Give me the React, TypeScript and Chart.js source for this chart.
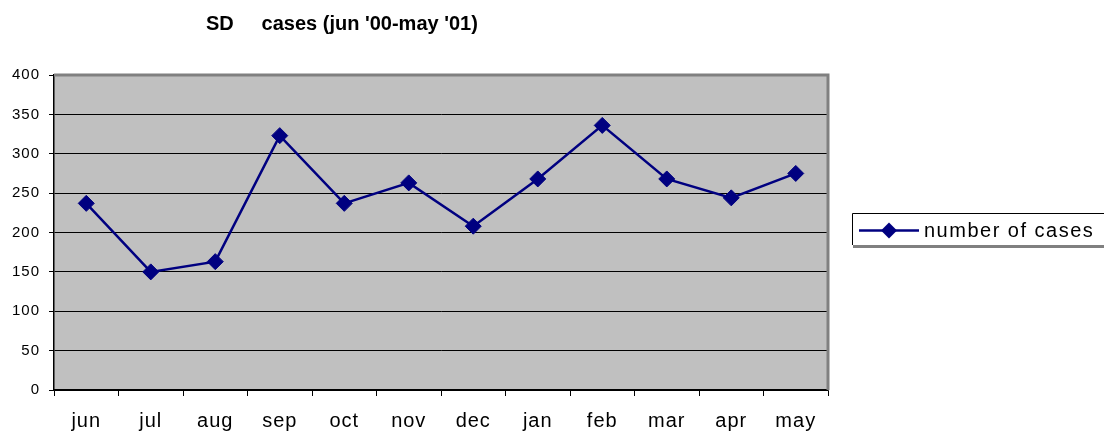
import React, { useEffect, useRef } from "react";
import { Chart, registerables } from "chart.js";

Chart.register(...registerables);

const categories = ["jun", "jul", "aug", "sep", "oct", "nov", "dec", "jan", "feb", "mar", "apr", "may"];
const seriesLabel = "number of cases";
const seriesValues = [237, 150, 163, 323, 237, 263, 208, 268, 336, 268, 244, 275];
const yTicks = [0, 50, 100, 150, 200, 250, 300, 350, 400];
const chartTitle = "SD     cases (jun '00-may '01)";

const NAVY = "#000080";
const FONT = "'Liberation Sans', Arial, sans-serif";

const plotPlugin = {
  id: "plotDecor",
  beforeDraw(chart: any) {
    const { ctx, chartArea } = chart;
    ctx.save();
    ctx.fillStyle = "#c0c0c0";
    ctx.fillRect(chartArea.left, chartArea.top, chartArea.right - chartArea.left, chartArea.bottom - chartArea.top);
    ctx.restore();
    (ctx as any).letterSpacing = "1px";
  },
  beforeDatasetsDraw(chart: any) {
    const { ctx, chartArea } = chart;
    ctx.save();
    ctx.strokeStyle = "#808080";
    ctx.lineWidth = 3;
    ctx.beginPath();
    ctx.moveTo(chartArea.left, chartArea.top);
    ctx.lineTo(chartArea.right + 1.5, chartArea.top);
    ctx.moveTo(chartArea.right, chartArea.top);
    ctx.lineTo(chartArea.right, chartArea.bottom);
    ctx.stroke();
    ctx.restore();
  },
  afterDraw(chart: any) {
    const { ctx } = chart;
    // title
    ctx.save();
    (ctx as any).letterSpacing = "0px";
    ctx.font = `bold 20px ${FONT}`;
    ctx.fillStyle = "#000";
    ctx.textAlign = "left";
    ctx.textBaseline = "alphabetic";
    ctx.fillText(chartTitle, 206, 30);
    ctx.restore();

    // legend
    const ds = chart.data.datasets[0];
    ctx.save();
    (ctx as any).letterSpacing = "0px";
    ctx.fillStyle = "#ffffff";
    ctx.fillRect(852, 213, 260, 33);
    ctx.strokeStyle = "#808080";
    ctx.lineWidth = 3;
    ctx.beginPath();
    ctx.moveTo(853, 246.5);
    ctx.lineTo(1110, 246.5);
    ctx.stroke();
    ctx.strokeStyle = "#000";
    ctx.lineWidth = 1;
    ctx.beginPath();
    ctx.moveTo(1110, 213.5);
    ctx.lineTo(852.5, 213.5);
    ctx.lineTo(852.5, 245);
    ctx.stroke();
    ctx.strokeStyle = ds.borderColor;
    ctx.lineWidth = 2.5;
    ctx.beginPath();
    ctx.moveTo(859, 230.5);
    ctx.lineTo(919, 230.5);
    ctx.stroke();
    ctx.fillStyle = ds.backgroundColor;
    ctx.beginPath();
    ctx.moveTo(889, 222.5);
    ctx.lineTo(897, 230.5);
    ctx.lineTo(889, 238.5);
    ctx.lineTo(881, 230.5);
    ctx.closePath();
    ctx.fill();
    (ctx as any).letterSpacing = "1.5px";
    ctx.font = `20px ${FONT}`;
    ctx.fillStyle = "#000";
    ctx.textAlign = "left";
    ctx.textBaseline = "alphabetic";
    ctx.fillText(ds.label, 924, 237);
    ctx.restore();
  },
};

export default function App() {
  const ref = useRef<HTMLCanvasElement | null>(null);
  useEffect(() => {
    document.body.style.margin = "0";
    const canvas = ref.current!;
    const chart = new Chart(canvas, {
      type: "line",
      data: {
        labels: categories,
        datasets: [
          {
            label: seriesLabel,
            data: seriesValues,
            borderColor: NAVY,
            backgroundColor: NAVY,
            borderWidth: 2.5,
            pointStyle: "rectRot",
            pointRadius: 8,
            pointBorderWidth: 1,
            pointBackgroundColor: NAVY,
            pointBorderColor: NAVY,
            tension: 0,
          },
        ],
      },
      options: {
        responsive: false,
        animation: false,
        devicePixelRatio: 1,
        layout: { padding: { top: 75, right: 276, left: 0, bottom: 0 } },
        plugins: {
          legend: { display: false },
          title: { display: false },
          tooltip: { enabled: false },
        },
        scales: {
          x: {
            type: "category",
            offset: true,
            grid: {
              offset: true,
              drawOnChartArea: false,
              drawTicks: true,
              tickLength: 6,
              color: "#000",
            },
            border: { display: true, color: "#000", width: 1.5 },
            ticks: {
              color: "#000",
              font: { size: 20, family: FONT },
              padding: 13,
              maxRotation: 0,
              autoSkip: false,
            },
            afterFit(scale: any) {
              scale.height = 43;
            },
          },
          y: {
            min: 0,
            max: 400,
            afterBuildTicks(scale: any) {
              scale.ticks = yTicks.map((v) => ({ value: v }));
            },
            grid: {
              color: "#000",
              lineWidth: 1,
              drawTicks: true,
              tickLength: 5,
            },
            border: { display: true, color: "#000", width: 1.5 },
            ticks: {
              color: "#000",
              font: { size: 15, family: FONT },
              padding: 9,
            },
            afterFit(scale: any) {
              scale.width = 54;
            },
          },
        },
      },
      plugins: [plotPlugin],
    });
    return () => chart.destroy();
  }, []);
  return (
    <div style={{ width: 1104, height: 433 }}>
      <canvas ref={ref} width={1104} height={433} style={{ display: "block" }} />
    </div>
  );
}
